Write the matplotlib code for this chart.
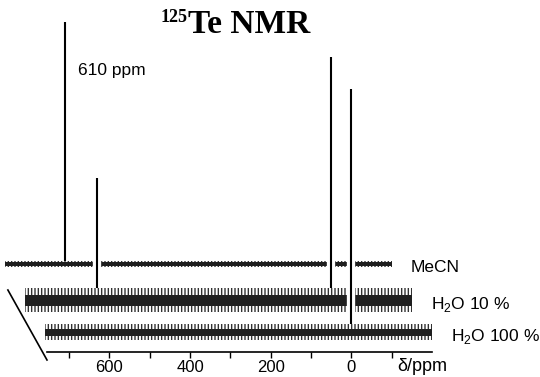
import matplotlib
matplotlib.use("Agg")
import matplotlib.pyplot as plt
import matplotlib.patheffects as pe

plt.rcParams['font.family'] = ['Liberation Sans', 'DejaVu Sans']
plt.rcParams['mathtext.fontset'] = 'custom'
plt.rcParams['mathtext.rm'] = 'Liberation Sans'
plt.rcParams['hatch.linewidth'] = 1.0

# traces, listed back to front
names = ["MeCN", "H$_\\mathrm{2}$O 10 %", "H$_\\mathrm{2}$O 100 %"]
shift_ppm = [100, 50, 0]          # stacking offset along the shift axis
baseline = [88, 52, 20]           # stacking offset upwards (arb. units)
noise_core = [1.8, 5.5, 3.5]      # dense part of the noise
noise_spike = [2.8, 12, 8]        # reach of the noise spikes
peak_ppm = [[610], [580, 0], [0]]
peak_height = [[242], [122, 243], [243]]
ppm_range = [760, -200]

ticks = [700, 600, 500, 400, 300, 200, 100, 0, -100]
tick_labels = ["", "600", "", "400", "", "200", "", "0", ""]

# depth axis drawn as a slanted line at the left
depth_line_ppm = [755, 852]
depth_line_y = [-8, 62]

fig = plt.figure(figsize=(5.4, 3.77), dpi=100)
ax = fig.add_axes([47/540, 25/377, 385/540, 352/377])
ax.set_xlim(755, -200)
ax.set_ylim(0, 352)
for s in ["top", "left", "right"]:
    ax.spines[s].set_visible(False)
ax.spines["bottom"].set_linewidth(1.2)
ax.set_yticks([])
ax.set_xticks(ticks)
ax.set_xticklabels(tick_labels)
ax.tick_params(axis="x", direction="out", length=4, width=1, pad=2, labelsize=12)
ax.set_xlabel("δ/ppm", fontsize=13)
ax.xaxis.set_label_coords(0.974, -0.04)
ax.xaxis.label.set_va("center")

ax.plot(depth_line_ppm, depth_line_y, color="k", lw=1.2, clip_on=False)

white = [pe.withStroke(linewidth=6, foreground="white")]
for i, name in enumerate(names):
    z = 3 + 2 * i
    dx = shift_ppm[i]
    b = baseline[i]
    xs = [p + dx for p in ppm_range]
    px = [p + dx for p in peak_ppm[i]]
    tops = [b + h for h in peak_height[i]]
    ax.vlines(px, b, tops, color="k", lw=1.5, path_effects=white,
              zorder=z, clip_on=False)
    ax.fill_between(xs, b - noise_spike[i], b + noise_spike[i], facecolor="white",
                    edgecolor="0.2", hatch="|||||", lw=0, zorder=z + 0.5, clip_on=False)
    ax.fill_between(xs, b - noise_core[i], b + noise_core[i], facecolor="0.12",
                    lw=0, zorder=z + 0.6, clip_on=False)
    ax.annotate(name, xy=(xs[1], b), xytext=(19, -4), textcoords="offset pixels",
                ha="left", va="center", fontsize=12.5, annotation_clip=False)

ax.annotate("610 ppm", xy=(peak_ppm[0][0] + shift_ppm[0], baseline[0] + peak_height[0][0]),
            xytext=(13, -48), textcoords="offset pixels", ha="left", va="center",
            fontsize=12.5, annotation_clip=False)

fig.text(188/540, 1 - 33/377, "Te NMR", family="Liberation Serif", weight="bold",
         fontsize=24, ha="left", va="baseline")
fig.text(188/540, 1 - 9/377, "125", family="Liberation Serif", weight="bold",
         fontsize=13, ha="right", va="top")

fig.savefig("out.png", dpi=100)
